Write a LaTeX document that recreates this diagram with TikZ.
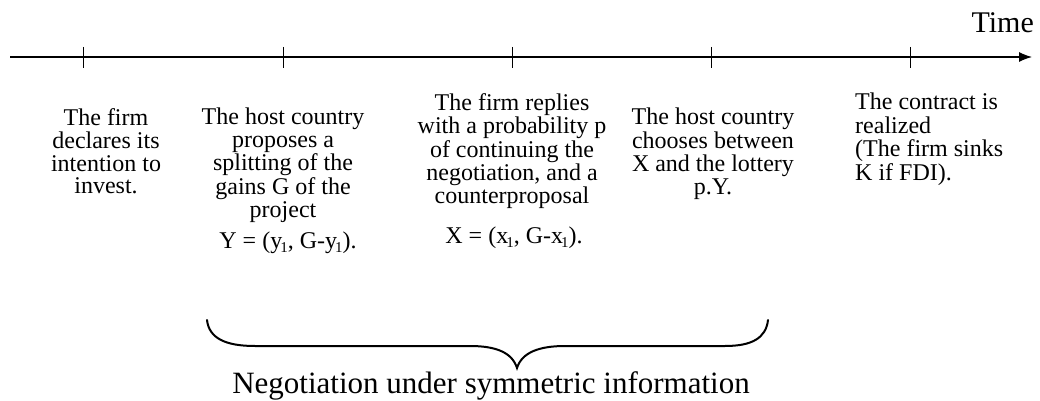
\documentclass[tikz,border=0pt]{standalone}
\usepackage{fontspec}
\setmainfont{Liberation Serif}
\newfontfamily\tnrfont{Liberation Serif}
\usetikzlibrary{arrows.meta}
\tikzset{
  lbl/.style={inner sep=0pt, font=\tnrfont\fontsize{24}{22.4}\selectfont},
  tick/.style={line width=0.9pt},
}
\newcommand{\sbone}{\kern-2pt\raisebox{-4pt}{\fontsize{15}{15}\selectfont 1}}
\newcommand{\cblock}[1]{\begin{tabular}{@{}c@{}}#1\end{tabular}}
\newcommand{\lblock}[1]{\begin{tabular}{@{}l@{}}#1\end{tabular}}
\begin{document}
\begin{tikzpicture}[x=1pt,y=-1pt]
\useasboundingbox (0,0) rectangle (1040,401);
% axis
\coordinate (a0) at (10,57);
\coordinate (a1) at (1032,57);
\draw[line width=1.1pt,-{Latex[length=13pt,width=10pt]}] (a0) -- (a1);
\foreach \x/\n in {83/t1,283/t2,512/t3,711/t4,910/t5}{
  \coordinate (\n u) at (\x,47);
  \coordinate (\n d) at (\x,68);
  \draw[tick] (\n u) -- (\n d);
}
\node[inner sep=0pt, anchor=base east, font=\tnrfont\fontsize{30}{30}\selectfont] (time) at (1034,33) {Time};
% blocks
\node[lbl, anchor=north] (b1) at (106,108) {\cblock{The firm\\declares its\\intention to\\invest.}};
\node[lbl, anchor=north] (b2) at (283,108) {\cblock{The host country\\proposes a\\splitting of the\\gains G of the\\project}};
\node[lbl, anchor=base] (f2) at (288,248) {Y = (y\sbone, G-y\sbone).};
\node[lbl, anchor=base] (f3) at (514,243) {X = (x\sbone, G-x\sbone).};
\node[lbl, anchor=north] (b3) at (512,93) {\cblock{The firm replies\\with a probability p\\of continuing the\\negotiation, and a\\counterproposal}};
\node[lbl, anchor=north] (b4) at (713,108) {\cblock{The host country\\chooses between\\X and the lottery\\p.Y.}};
\node[lbl, anchor=north west] (b5) at (855,93) {\lblock{The contract is\\realized\\(The firm sinks\\K if FDI).}};
% brace
\coordinate (bl) at (207,320);
\coordinate (br) at (768,320);
\coordinate (tip) at (517,368);
\draw[line width=2pt, line cap=round]
  (bl) .. controls (209,338) and (225,346) .. (255,346)
  -- (470,346) .. controls (495,346) and (512,352) .. (tip)
  .. controls (522,352) and (540,346) .. (565,346)
  -- (725,346) .. controls (752,346) and (766,338) .. (br);
\node[inner sep=0pt, anchor=base, font=\tnrfont\fontsize{31}{31}\selectfont] (neg) at (491,393) {Negotiation under symmetric information};
\end{tikzpicture}
\end{document}
